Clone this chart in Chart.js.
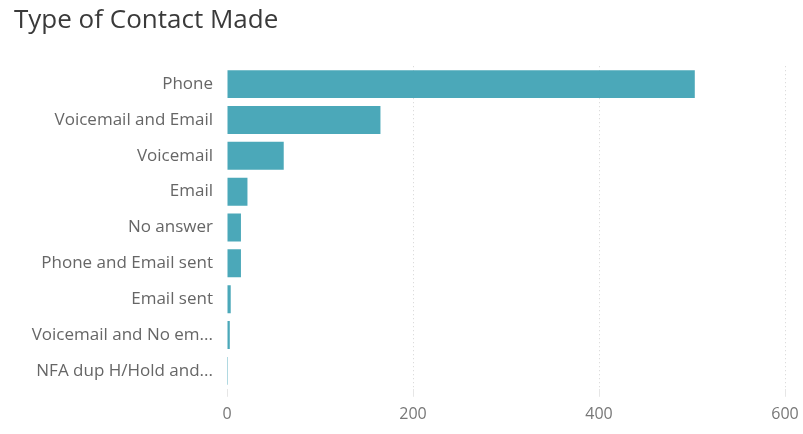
<!DOCTYPE html>
<html>
<head>
<meta charset="utf-8">
<script src="https://cdn.jsdelivr.net/npm/chart.js@4/dist/chart.umd.min.js"></script>
<style>
  html, body { margin: 0; padding: 0; background: #ffffff; }
  #wrap { width: 803px; height: 434px; }
</style>
</head>
<body>
<div id="wrap"><canvas id="contactChart" width="803" height="434"></canvas></div>
<script>
// Data
const contactTypes = [
  "Phone",
  "Voicemail and Email",
  "Voicemail",
  "Email",
  "No answer",
  "Phone and Email sent",
  "Email sent",
  "Voicemail and No em...",
  "NFA dup H/Hold and...",
];
const contactCounts = [503, 165, 61, 22, 15, 15, 4, 3, 1];
const xTicks = [0, 200, 400, 600];

const barColor = "#4ba8b9";
const fontFamily = "'Open Sans', 'Noto Sans', sans-serif";

const ctx = document.getElementById("contactChart").getContext("2d");

const contactChart = new Chart(ctx, {
  type: "bar",
  data: {
    labels: contactTypes,
    datasets: [
      {
        label: "Count",
        data: contactCounts,
        backgroundColor: barColor,
        borderWidth: 0,
        barPercentage: 0.78,
        categoryPercentage: 1.0,
      },
    ],
  },
  options: {
    indexAxis: "y",
    responsive: false,
    animation: false,
    layout: {
      padding: { left: 14, right: 18, top: 0, bottom: 2 },
    },
    plugins: {
      legend: { display: false },
      tooltip: { enabled: false },
      title: {
        display: true,
        text: "Type of Contact Made",
        align: "start",
        color: "#3a3a3a",
        font: { family: fontFamily, size: 26, weight: "normal" },
        padding: { top: 5, bottom: 30 },
      },
    },
    scales: {
      x: {
        min: 0,
        max: 600,
        afterBuildTicks: (scale) => {
          scale.ticks = xTicks.map((v) => ({ value: v }));
        },
        afterFit: (scale) => {
          // let the "600" label run into the right margin like the reference
          scale.paddingRight = 0;
          scale.paddingLeft = 0;
        },
        grid: {
          color: (c) => (c.tick && c.tick.value === 0 ? "rgba(0,0,0,0)" : "#d4d4d4"),
          tickColor: "#e6e6e6",
          tickLength: 8,
          lineWidth: 1,
        },
        border: { display: false, dash: [1, 3] },
        ticks: {
          color: "#777777",
          padding: 8,
          font: { family: fontFamily, size: 16 },
        },
      },
      y: {
        afterFit: (scale) => {
          scale.width = 213;
        },
        border: { display: false },
        grid: { display: false },
        ticks: {
          color: "#666666",
          padding: 6,
          font: { family: fontFamily, size: 17 },
        },
      },
    },
  },
});
</script>
</body>
</html>
